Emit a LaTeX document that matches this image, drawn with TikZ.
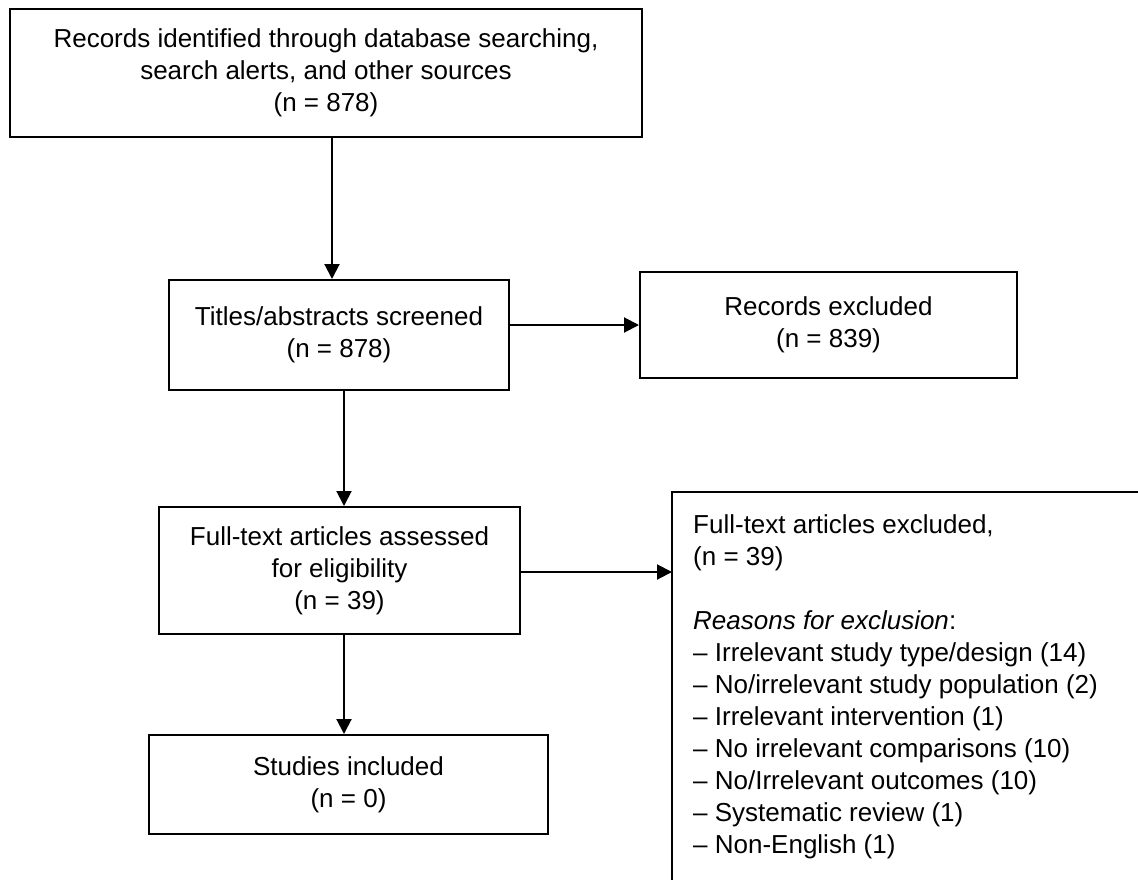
\documentclass[tikz,border=0pt]{standalone}
\usepackage{fontspec}
\setmainfont{Liberation Sans}
\usetikzlibrary{arrows.meta}
\begin{document}
\begin{tikzpicture}[x=1pt,y=-1pt,
  txt/.style={font=\fontsize{26}{32}\selectfont},
  box/.style={txt, draw, line width=2pt, inner sep=0pt, align=center},
  arr/.style={line width=2pt, -{Triangle[length=15pt,width=15pt]}}]
\useasboundingbox (0,0) rectangle (1138,879);

% flow boxes
\node[box, minimum width=632, minimum height=128] (records) at (326,73)
  {Records identified through database searching,\\ search alerts, and other sources\\ (n = 878)};
\node[box, minimum width=340, minimum height=110] (titles) at (339,335)
  {Titles/abstracts screened\\ (n = 878)};
\node[box, minimum width=377, minimum height=106] (recexcl) at (828.5,325)
  {Records excluded\\ (n = 839)};
\node[box, minimum width=361, minimum height=127] (fulltext) at (339.5,570.5)
  {Full-text articles assessed\\ for eligibility\\ (n = 39)};
\node[box, minimum width=399, minimum height=99] (studies) at (348.5,784.5)
  {Studies included\\ (n = 0)};

% exclusion box, open towards the right and bottom
\node[inner sep=0pt, outer sep=0pt, anchor=north west, minimum width=470, minimum height=390] (fullexcl) at (672,492) {};
\draw[line width=2pt] (fullexcl.north east) -- (fullexcl.north west) -- (fullexcl.south west);
\node[txt, align=left, inner sep=0pt, anchor=north west] (reasons) at (693,514.5)
  {Full-text articles excluded,\\ (n = 39)\\[32pt]
   \textit{Reasons for exclusion}:\\
   \textendash{} Irrelevant study type/design (14)\\
   \textendash{} No/irrelevant study population (2)\\
   \textendash{} Irrelevant intervention (1)\\
   \textendash{} No irrelevant comparisons (10)\\
   \textendash{} No/Irrelevant outcomes (10)\\
   \textendash{} Systematic review (1)\\
   \textendash{} Non-English (1)};

% connectors
\draw[arr] ([xshift=-7pt]records.south -| titles.north) -- ([xshift=-7pt]titles.north);
\draw[arr] ([yshift=10pt]titles.east) -- ([yshift=10pt]titles.east -| recexcl.west);
\draw[arr] ([xshift=4.5pt]titles.south -| fulltext.north) -- ([xshift=4.5pt]fulltext.north);
\draw[arr] ([yshift=-1.5pt]fulltext.east) -- ([yshift=-1.5pt]fulltext.east -| fullexcl.west);
\draw[arr] ([xshift=4.5pt]fulltext.south) -- ([xshift=4.5pt]fulltext.south |- studies.north);
\end{tikzpicture}
\end{document}
